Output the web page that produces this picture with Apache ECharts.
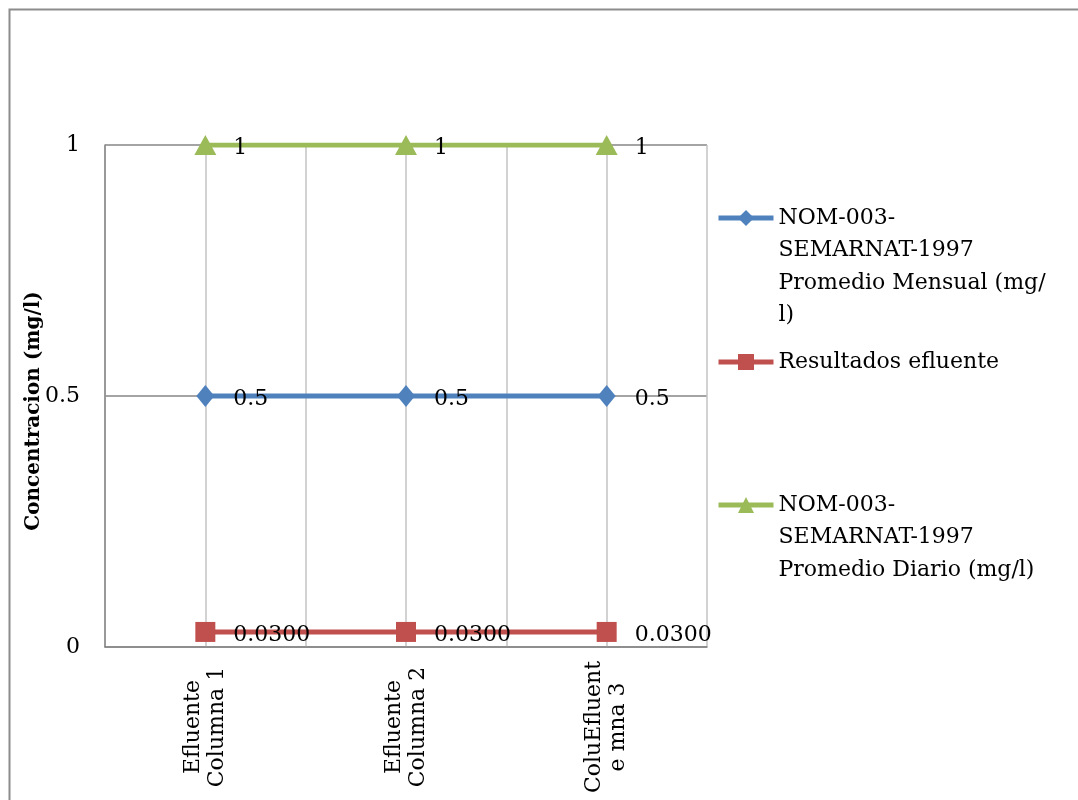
<!DOCTYPE html>
<html>
<head>
<meta charset="utf-8">
<script src="https://cdn.jsdelivr.net/npm/echarts@6/dist/echarts.min.js"></script>
<style>
html,body{margin:0;padding:0;background:#fff;}
#chart{width:1078px;height:800px;}
</style>
</head>
<body>
<div id="chart"></div>
<script>
const categories = ['Efluente\nColumna 1', 'Efluente\nColumna 2', 'ColuEfluent\ne mna 3'];
const promedioMensual = [0.5, 0.5, 0.5];
const resultadosEfluente = [0.03, 0.03, 0.03];
const promedioDiario = [1, 1, 1];
const yTicks = [0, 0.5, 1];
const seriesNames = [
  'NOM-003-SEMARNAT-1997 Promedio Mensual (mg/l)',
  'Resultados efluente',
  'NOM-003-SEMARNAT-1997 Promedio Diario (mg/l)'
];
const legendLines = {
  [seriesNames[0]]: ['NOM-003-', 'SEMARNAT-1997', 'Promedio Mensual (mg/', 'l)'],
  [seriesNames[1]]: ['Resultados efluente'],
  [seriesNames[2]]: ['NOM-003-', 'SEMARNAT-1997', 'Promedio Diario (mg/l)']
};

const FONT = 'DejaVu Serif';
const colors = ['#4F81BD', '#C0504D', '#9BBB59'];
const LH = 32.5;

// keep the legend icon level with the first text line
function legendFormat(n) {
  const lines = legendLines[n];
  const pad = new Array(lines.length - 1).fill(' ');
  return pad.concat(lines).join('\n');
}

function legendCfg(name, iconY) {
  const nLines = legendLines[name].length;
  const blockH = (2 * nLines - 1) * LH;
  return {
    data: [name],
    orient: 'vertical',
    left: 716,
    top: iconY - blockH / 2,
    padding: 0,
    itemWidth: 55,
    itemHeight: 20,
    lineStyle: {width: 5},
    formatter: legendFormat,
    textStyle: {fontFamily: FONT, fontSize: 22, color: '#000', lineHeight: LH}
  };
}

const chart = echarts.init(document.getElementById('chart'));
chart.setOption({
  animation: false,
  color: colors,
  graphic: [{
    type: 'rect',
    shape: {x: 9.5, y: 9.5, width: 1200, height: 900},
    style: {fill: 'none', stroke: '#8c8c8c', lineWidth: 2},
    silent: true
  }],
  legend: [
    legendCfg(seriesNames[0], 218),
    legendCfg(seriesNames[1], 362),
    legendCfg(seriesNames[2], 505)
  ],
  grid: {left: 105, right: 371, top: 145, bottom: 153, containLabel: false},
  xAxis: [{
    type: 'category',
    data: categories,
    boundaryGap: true,
    axisLine: {lineStyle: {color: '#868686', width: 1.5}},
    axisTick: {show: false},
    splitLine: {show: false},
    axisLabel: {
      rotate: 90, align: 'center', margin: 80, interval: 0,
      fontFamily: FONT, fontSize: 22, color: '#000', lineHeight: 24
    }
  }, {
    type: 'value',
    min: 0, max: 3, interval: 0.5,
    position: 'top',
    axisLine: {show: false},
    axisTick: {show: false},
    axisLabel: {show: false},
    splitLine: {show: true, lineStyle: {color: '#c3c3c3', width: 1.5}}
  }],
  yAxis: {
    type: 'value',
    min: 0, max: 1, interval: 0.5,
    name: 'Concentracion (mg/l)',
    nameLocation: 'middle',
    nameGap: 61,
    nameMoveOverlap: false,
    nameTextStyle: {fontFamily: FONT, fontSize: 20, fontWeight: 'bold', color: '#000',
      padding: [0, 30, 0, 0]},
    axisLine: {show: true, lineStyle: {color: '#868686', width: 1.5}},
    axisTick: {show: false},
    axisLabel: {
      margin: 25, fontFamily: FONT, fontSize: 22, color: '#000',
      formatter: v => (yTicks.includes(v) ? String(v) : '')
    },
    splitLine: {show: true, lineStyle: {color: '#868686', width: 1.5}}
  },
  series: [{
    name: seriesNames[0], type: 'line', data: promedioMensual,
    symbol: 'diamond', symbolSize: [18, 22],
    lineStyle: {width: 5}, itemStyle: {color: colors[0]},
    label: {show: true, position: 'right', distance: 19, offset: [0, 3],
      fontFamily: FONT, fontSize: 22, color: '#000', formatter: p => String(p.value)}
  }, {
    name: seriesNames[1], type: 'line', data: resultadosEfluente,
    symbol: 'rect', symbolSize: 20,
    lineStyle: {width: 5}, itemStyle: {color: colors[1]},
    label: {show: true, position: 'right', distance: 18, offset: [0, 3],
      fontFamily: FONT, fontSize: 22, color: '#000', formatter: p => p.value.toFixed(4)}
  }, {
    name: seriesNames[2], type: 'line', data: promedioDiario,
    symbol: 'triangle', symbolSize: [22, 20],
    lineStyle: {width: 5}, itemStyle: {color: colors[2]},
    label: {show: true, position: 'right', distance: 17, offset: [0, 3],
      fontFamily: FONT, fontSize: 22, color: '#000', formatter: p => String(p.value)}
  }]
});
</script>
</body>
</html>
